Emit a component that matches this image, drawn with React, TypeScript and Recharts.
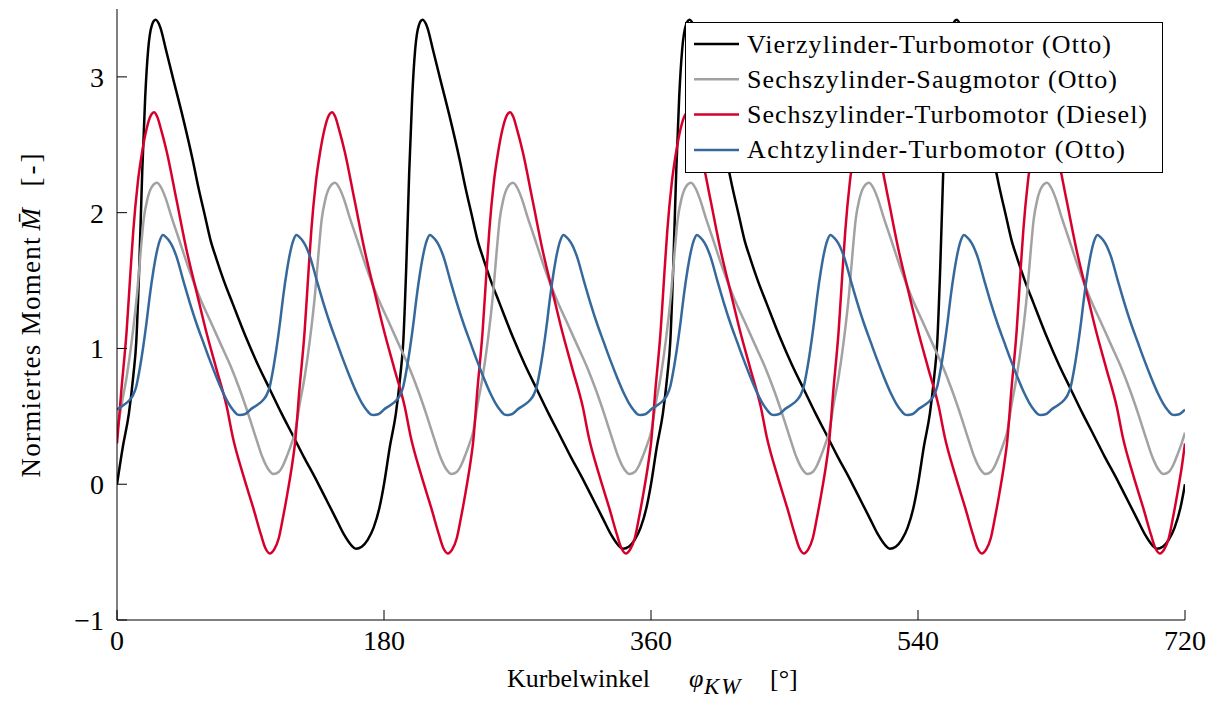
import React from 'react';
import { LineChart, Line, XAxis, YAxis, Legend, Label } from 'recharts';

const FONT = "'Liberation Serif', 'Times New Roman', serif";

const xTicks = [0, 180, 360, 540, 720];
const yTicks = [-1, 0, 1, 2, 3];

const seriesNames = [
  'Vierzylinder-Turbomotor (Otto)',
  'Sechszylinder-Saugmotor (Otto)',
  'Sechszylinder-Turbomotor (Diesel)',
  'Achtzylinder-Turbomotor (Otto)',
];
const seriesColors = ['#000000', '#a2a2a2', '#d7002d', '#35699c'];

// Vierzylinder-Turbomotor (Otto)
const vierWinkel = [
  0, 4, 8, 11, 13, 15, 17, 19, 21, 23.5, 26, 29, 33, 38, 44, 51, 55, 59, 63, 67, 72, 78, 87, 95, 103, 111, 119, 126, 133, 140, 147, 153, 158, 161, 165, 169, 173, 177,
  180, 184, 188, 191, 193, 195, 197, 199, 201, 203.5, 206, 209, 213, 218, 224, 231, 235, 239, 243, 247, 252, 258, 267, 275, 283, 291, 299, 306, 313, 320, 327, 333, 338, 341, 345, 349, 353, 357,
  360, 364, 368, 371, 373, 375, 377, 379, 381, 383.5, 386, 389, 393, 398, 404, 411, 415, 419, 423, 427, 432, 438, 447, 455, 463, 471, 479, 486, 493, 500, 507, 513, 518, 521, 525, 529, 533, 537,
  540, 544, 548, 551, 553, 555, 557, 559, 561, 563.5, 566, 569, 573, 578, 584, 591, 595, 599, 603, 607, 612, 618, 627, 635, 643, 651, 659, 666, 673, 680, 687, 693, 698, 701, 705, 709, 713, 717,
  720,
];
const vierMoment = [
  0, 0.28, 0.52, 0.8, 1.05, 1.6, 2.3, 2.85, 3.2, 3.38, 3.42, 3.37, 3.2, 2.98, 2.72, 2.39, 2.18, 1.99, 1.8, 1.66, 1.5, 1.33, 1.08, 0.88, 0.7, 0.52, 0.35, 0.2, 0.06, -0.09, -0.24, -0.37, -0.45, -0.475, -0.46, -0.41, -0.32, -0.17,
  0, 0.28, 0.52, 0.8, 1.05, 1.6, 2.3, 2.85, 3.2, 3.38, 3.42, 3.37, 3.2, 2.98, 2.72, 2.39, 2.18, 1.99, 1.8, 1.66, 1.5, 1.33, 1.08, 0.88, 0.7, 0.52, 0.35, 0.2, 0.06, -0.09, -0.24, -0.37, -0.45, -0.475, -0.46, -0.41, -0.32, -0.17,
  0, 0.28, 0.52, 0.8, 1.05, 1.6, 2.3, 2.85, 3.2, 3.38, 3.42, 3.37, 3.2, 2.98, 2.72, 2.39, 2.18, 1.99, 1.8, 1.66, 1.5, 1.33, 1.08, 0.88, 0.7, 0.52, 0.35, 0.2, 0.06, -0.09, -0.24, -0.37, -0.45, -0.475, -0.46, -0.41, -0.32, -0.17,
  0, 0.28, 0.52, 0.8, 1.05, 1.6, 2.3, 2.85, 3.2, 3.38, 3.42, 3.37, 3.2, 2.98, 2.72, 2.39, 2.18, 1.99, 1.8, 1.66, 1.5, 1.33, 1.08, 0.88, 0.7, 0.52, 0.35, 0.2, 0.06, -0.09, -0.24, -0.37, -0.45, -0.475, -0.46, -0.41, -0.32, -0.17,
  0,
];

// Sechszylinder-Saugmotor (Otto)
const saugWinkel = [
  0, 3, 6.5, 10, 13.5, 16, 18, 20.5, 23.5, 27, 30, 33, 37, 41, 48, 56, 63, 70, 77, 83, 89, 94, 98, 102, 105.5, 109, 112, 115, 118,
  120, 123, 126.5, 130, 133.5, 136, 138, 140.5, 143.5, 147, 150, 153, 157, 161, 168, 176, 183, 190, 197, 203, 209, 214, 218, 222, 225.5, 229, 232, 235, 238,
  240, 243, 246.5, 250, 253.5, 256, 258, 260.5, 263.5, 267, 270, 273, 277, 281, 288, 296, 303, 310, 317, 323, 329, 334, 338, 342, 345.5, 349, 352, 355, 358,
  360, 363, 366.5, 370, 373.5, 376, 378, 380.5, 383.5, 387, 390, 393, 397, 401, 408, 416, 423, 430, 437, 443, 449, 454, 458, 462, 465.5, 469, 472, 475, 478,
  480, 483, 486.5, 490, 493.5, 496, 498, 500.5, 503.5, 507, 510, 513, 517, 521, 528, 536, 543, 550, 557, 563, 569, 574, 578, 582, 585.5, 589, 592, 595, 598,
  600, 603, 606.5, 610, 613.5, 616, 618, 620.5, 623.5, 627, 630, 633, 637, 641, 648, 656, 663, 670, 677, 683, 689, 694, 698, 702, 705.5, 709, 712, 715, 718,
  720,
];
const saugMoment = [
  0.38, 0.58, 0.79, 1.06, 1.4, 1.72, 1.95, 2.1, 2.19, 2.22, 2.18, 2.1, 1.96, 1.83, 1.6, 1.37, 1.2, 1.03, 0.86, 0.69, 0.5, 0.33, 0.2, 0.11, 0.075, 0.09, 0.14, 0.22, 0.31,
  0.38, 0.58, 0.79, 1.06, 1.4, 1.72, 1.95, 2.1, 2.19, 2.22, 2.18, 2.1, 1.96, 1.83, 1.6, 1.37, 1.2, 1.03, 0.86, 0.69, 0.5, 0.33, 0.2, 0.11, 0.075, 0.09, 0.14, 0.22, 0.31,
  0.38, 0.58, 0.79, 1.06, 1.4, 1.72, 1.95, 2.1, 2.19, 2.22, 2.18, 2.1, 1.96, 1.83, 1.6, 1.37, 1.2, 1.03, 0.86, 0.69, 0.5, 0.33, 0.2, 0.11, 0.075, 0.09, 0.14, 0.22, 0.31,
  0.38, 0.58, 0.79, 1.06, 1.4, 1.72, 1.95, 2.1, 2.19, 2.22, 2.18, 2.1, 1.96, 1.83, 1.6, 1.37, 1.2, 1.03, 0.86, 0.69, 0.5, 0.33, 0.2, 0.11, 0.075, 0.09, 0.14, 0.22, 0.31,
  0.38, 0.58, 0.79, 1.06, 1.4, 1.72, 1.95, 2.1, 2.19, 2.22, 2.18, 2.1, 1.96, 1.83, 1.6, 1.37, 1.2, 1.03, 0.86, 0.69, 0.5, 0.33, 0.2, 0.11, 0.075, 0.09, 0.14, 0.22, 0.31,
  0.38, 0.58, 0.79, 1.06, 1.4, 1.72, 1.95, 2.1, 2.19, 2.22, 2.18, 2.1, 1.96, 1.83, 1.6, 1.37, 1.2, 1.03, 0.86, 0.69, 0.5, 0.33, 0.2, 0.11, 0.075, 0.09, 0.14, 0.22, 0.31,
  0.38,
];

// Sechszylinder-Turbomotor (Diesel)
const dieselWinkel = [
  0, 3, 6.5, 9, 11, 14, 17, 20, 23, 25, 27, 30, 33.5, 40, 47, 54, 60, 67, 74, 78, 85, 92, 97, 100, 103, 106, 109, 112, 115, 118,
  120, 123, 126.5, 129, 131, 134, 137, 140, 143, 145, 147, 150, 153.5, 160, 167, 174, 180, 187, 194, 198, 205, 212, 217, 220, 223, 226, 229, 232, 235, 238,
  240, 243, 246.5, 249, 251, 254, 257, 260, 263, 265, 267, 270, 273.5, 280, 287, 294, 300, 307, 314, 318, 325, 332, 337, 340, 343, 346, 349, 352, 355, 358,
  360, 363, 366.5, 369, 371, 374, 377, 380, 383, 385, 387, 390, 393.5, 400, 407, 414, 420, 427, 434, 438, 445, 452, 457, 460, 463, 466, 469, 472, 475, 478,
  480, 483, 486.5, 489, 491, 494, 497, 500, 503, 505, 507, 510, 513.5, 520, 527, 534, 540, 547, 554, 558, 565, 572, 577, 580, 583, 586, 589, 592, 595, 598,
  600, 603, 606.5, 609, 611, 614, 617, 620, 623, 625, 627, 630, 633.5, 640, 647, 654, 660, 667, 674, 678, 685, 692, 697, 700, 703, 706, 709, 712, 715, 718,
  720,
];
const dieselMoment = [
  0.3, 0.7, 1.13, 1.55, 1.87, 2.22, 2.45, 2.62, 2.72, 2.74, 2.71, 2.6, 2.45, 2.1, 1.72, 1.4, 1.13, 0.85, 0.57, 0.35, 0.07, -0.18, -0.37, -0.47, -0.51, -0.48, -0.4, -0.24, -0.06, 0.14,
  0.3, 0.7, 1.13, 1.55, 1.87, 2.22, 2.45, 2.62, 2.72, 2.74, 2.71, 2.6, 2.45, 2.1, 1.72, 1.4, 1.13, 0.85, 0.57, 0.35, 0.07, -0.18, -0.37, -0.47, -0.51, -0.48, -0.4, -0.24, -0.06, 0.14,
  0.3, 0.7, 1.13, 1.55, 1.87, 2.22, 2.45, 2.62, 2.72, 2.74, 2.71, 2.6, 2.45, 2.1, 1.72, 1.4, 1.13, 0.85, 0.57, 0.35, 0.07, -0.18, -0.37, -0.47, -0.51, -0.48, -0.4, -0.24, -0.06, 0.14,
  0.3, 0.7, 1.13, 1.55, 1.87, 2.22, 2.45, 2.62, 2.72, 2.74, 2.71, 2.6, 2.45, 2.1, 1.72, 1.4, 1.13, 0.85, 0.57, 0.35, 0.07, -0.18, -0.37, -0.47, -0.51, -0.48, -0.4, -0.24, -0.06, 0.14,
  0.3, 0.7, 1.13, 1.55, 1.87, 2.22, 2.45, 2.62, 2.72, 2.74, 2.71, 2.6, 2.45, 2.1, 1.72, 1.4, 1.13, 0.85, 0.57, 0.35, 0.07, -0.18, -0.37, -0.47, -0.51, -0.48, -0.4, -0.24, -0.06, 0.14,
  0.3, 0.7, 1.13, 1.55, 1.87, 2.22, 2.45, 2.62, 2.72, 2.74, 2.71, 2.6, 2.45, 2.1, 1.72, 1.4, 1.13, 0.85, 0.57, 0.35, 0.07, -0.18, -0.37, -0.47, -0.51, -0.48, -0.4, -0.24, -0.06, 0.14,
  0.3,
];

// Achtzylinder-Turbomotor (Otto)
const achtWinkel = [
  0, 4, 8.5, 11, 13, 15, 17.5, 20, 22, 24.5, 27, 29, 31, 33, 36, 40, 44.7, 49, 53.7, 58, 62.7, 67, 71.7, 75, 78.4, 81, 83, 86, 88,
  90, 94, 98.5, 101, 103, 105, 107.5, 110, 112, 114.5, 117, 119, 121, 123, 126, 130, 134.7, 139, 143.7, 148, 152.7, 157, 161.7, 165, 168.4, 171, 173, 176, 178,
  180, 184, 188.5, 191, 193, 195, 197.5, 200, 202, 204.5, 207, 209, 211, 213, 216, 220, 224.7, 229, 233.7, 238, 242.7, 247, 251.7, 255, 258.4, 261, 263, 266, 268,
  270, 274, 278.5, 281, 283, 285, 287.5, 290, 292, 294.5, 297, 299, 301, 303, 306, 310, 314.7, 319, 323.7, 328, 332.7, 337, 341.7, 345, 348.4, 351, 353, 356, 358,
  360, 364, 368.5, 371, 373, 375, 377.5, 380, 382, 384.5, 387, 389, 391, 393, 396, 400, 404.7, 409, 413.7, 418, 422.7, 427, 431.7, 435, 438.4, 441, 443, 446, 448,
  450, 454, 458.5, 461, 463, 465, 467.5, 470, 472, 474.5, 477, 479, 481, 483, 486, 490, 494.7, 499, 503.7, 508, 512.7, 517, 521.7, 525, 528.4, 531, 533, 536, 538,
  540, 544, 548.5, 551, 553, 555, 557.5, 560, 562, 564.5, 567, 569, 571, 573, 576, 580, 584.7, 589, 593.7, 598, 602.7, 607, 611.7, 615, 618.4, 621, 623, 626, 628,
  630, 634, 638.5, 641, 643, 645, 647.5, 650, 652, 654.5, 657, 659, 661, 663, 666, 670, 674.7, 679, 683.7, 688, 692.7, 697, 701.7, 705, 708.4, 711, 713, 716, 718,
  720,
];
const achtMoment = [
  0.55, 0.58, 0.62, 0.66, 0.72, 0.83, 1.0, 1.2, 1.38, 1.57, 1.72, 1.8, 1.835, 1.82, 1.78, 1.68, 1.5, 1.34, 1.18, 1.05, 0.91, 0.79, 0.67, 0.6, 0.545, 0.515, 0.51, 0.515, 0.53,
  0.55, 0.58, 0.62, 0.66, 0.72, 0.83, 1.0, 1.2, 1.38, 1.57, 1.72, 1.8, 1.835, 1.82, 1.78, 1.68, 1.5, 1.34, 1.18, 1.05, 0.91, 0.79, 0.67, 0.6, 0.545, 0.515, 0.51, 0.515, 0.53,
  0.55, 0.58, 0.62, 0.66, 0.72, 0.83, 1.0, 1.2, 1.38, 1.57, 1.72, 1.8, 1.835, 1.82, 1.78, 1.68, 1.5, 1.34, 1.18, 1.05, 0.91, 0.79, 0.67, 0.6, 0.545, 0.515, 0.51, 0.515, 0.53,
  0.55, 0.58, 0.62, 0.66, 0.72, 0.83, 1.0, 1.2, 1.38, 1.57, 1.72, 1.8, 1.835, 1.82, 1.78, 1.68, 1.5, 1.34, 1.18, 1.05, 0.91, 0.79, 0.67, 0.6, 0.545, 0.515, 0.51, 0.515, 0.53,
  0.55, 0.58, 0.62, 0.66, 0.72, 0.83, 1.0, 1.2, 1.38, 1.57, 1.72, 1.8, 1.835, 1.82, 1.78, 1.68, 1.5, 1.34, 1.18, 1.05, 0.91, 0.79, 0.67, 0.6, 0.545, 0.515, 0.51, 0.515, 0.53,
  0.55, 0.58, 0.62, 0.66, 0.72, 0.83, 1.0, 1.2, 1.38, 1.57, 1.72, 1.8, 1.835, 1.82, 1.78, 1.68, 1.5, 1.34, 1.18, 1.05, 0.91, 0.79, 0.67, 0.6, 0.545, 0.515, 0.51, 0.515, 0.53,
  0.55, 0.58, 0.62, 0.66, 0.72, 0.83, 1.0, 1.2, 1.38, 1.57, 1.72, 1.8, 1.835, 1.82, 1.78, 1.68, 1.5, 1.34, 1.18, 1.05, 0.91, 0.79, 0.67, 0.6, 0.545, 0.515, 0.51, 0.515, 0.53,
  0.55, 0.58, 0.62, 0.66, 0.72, 0.83, 1.0, 1.2, 1.38, 1.57, 1.72, 1.8, 1.835, 1.82, 1.78, 1.68, 1.5, 1.34, 1.18, 1.05, 0.91, 0.79, 0.67, 0.6, 0.545, 0.515, 0.51, 0.515, 0.53,
  0.55,
];

const toRows = (angles: number[], values: number[]) =>
  angles.map((a, i) => ({ a, v: values[i] }));

const seriesData = [
  toRows(vierWinkel, vierMoment),
  toRows(saugWinkel, saugMoment),
  toRows(dieselWinkel, dieselMoment),
  toRows(achtWinkel, achtMoment),
];

const fmtY = (v: number) => (v < 0 ? '\u2212' + Math.abs(v) : String(v));

const tickStyle = { fontSize: 28, fill: '#000', fontFamily: FONT };

const LegendBox = () => {
  const textWidths = [364, 370, 400, 378];
  return (
    <svg width={478} height={151} style={{ display: 'block' }}>
      <rect x={0.5} y={0.5} width={477} height={150} fill="#fff" stroke="#000" strokeWidth={1} />
      {seriesNames.map((name, i) => {
        const cy = 22 + i * 35.3;
        return (
          <g key={name}>
            <line x1={9} x2={54} y1={cy} y2={cy} stroke={seriesColors[i]} strokeWidth={2.5} />
            <text
              x={62}
              y={cy + 8.5}
              fontSize={26}
              fontFamily={FONT}
              textLength={textWidths[i]}
              lengthAdjust="spacing"
              fill="#000"
            >
              {name}
            </text>
          </g>
        );
      })}
    </svg>
  );
};

const YLabel = (props: any) => {
  const vb = props.viewBox || {};
  const mid = vb.y + vb.height / 2;
  const bx = 40;
  return (
    <g transform="rotate(-90)" fontFamily={FONT} fill="#000">
      <text x={-(mid + 163)} y={bx} fontSize={27} textLength={240} lengthAdjust="spacing">
        Normiertes Moment
      </text>
      <text x={-(mid - 84)} y={bx} fontSize={27} fontStyle="italic">
        {'M\u0304'}
      </text>
      <text x={-(mid - 128)} y={bx} fontSize={27} letterSpacing={3}>
        [-]
      </text>
    </g>
  );
};

const XLabel = (props: any) => {
  const vb = props.viewBox || {};
  const x0 = vb.x + vb.width / 2 - 144;
  const by = 687;
  return (
    <g fontFamily={FONT} fill="#000">
      <text x={x0} y={by} fontSize={26}>
        Kurbelwinkel
      </text>
      <text x={x0 + 182} y={by} fontSize={26} fontStyle="italic">
        {'\u03c6'}
      </text>
      <text x={x0 + 197} y={by + 7} fontSize={23} fontStyle="italic" letterSpacing={2}>
        KW
      </text>
      <text x={x0 + 263} y={by} fontSize={26}>
        {'[\u00b0]'}
      </text>
    </g>
  );
};

export default function App() {
  return (
    <div style={{ position: 'absolute', left: 0, top: 0, width: 1219, height: 706, background: '#fff' }}>
      <LineChart width={1219} height={706} margin={{ top: 9, right: 34, bottom: 0, left: 0 }}>
        <XAxis
          xAxisId="bottom"
          type="number"
          dataKey="a"
          domain={[0, 720]}
          ticks={xTicks}
          allowDataOverflow
          height={86}
          stroke="#000"
          tickSize={-10}
          tickMargin={20}
          tick={tickStyle}
          interval={0}
        >
          <Label content={<XLabel />} />
        </XAxis>
        <XAxis
          xAxisId="top"
          orientation="top"
          type="number"
          dataKey="a"
          domain={[0, 720]}
          ticks={xTicks}
          allowDataOverflow
          height={0}
          stroke="#000"
          tickSize={-10}
          tickFormatter={() => ''}
          interval={0}
        />
        <YAxis
          yAxisId="left"
          type="number"
          domain={[-1, 3.5]}
          ticks={yTicks}
          allowDataOverflow
          width={117}
          stroke="#000"
          tickSize={-10}
          tickMargin={23}
          tick={tickStyle}
          tickFormatter={fmtY}
          interval={0}
        >
          <Label content={<YLabel />} />
        </YAxis>
        <YAxis
          yAxisId="right"
          orientation="right"
          type="number"
          domain={[-1, 3.5]}
          ticks={yTicks}
          allowDataOverflow
          width={0}
          stroke="#000"
          tickSize={-10}
          tickFormatter={() => ''}
          interval={0}
        />
        {seriesData.map((d, i) => (
          <Line
            key={seriesNames[i]}
            data={d}
            dataKey="v"
            name={seriesNames[i]}
            xAxisId="bottom"
            yAxisId="left"
            type="monotone"
            dot={false}
            activeDot={false}
            stroke={seriesColors[i]}
            strokeWidth={2.5}
            isAnimationActive={false}
          />
        ))}
        <Legend
          layout="horizontal"
          verticalAlign="middle"
          align="center"
          content={<LegendBox />}
          wrapperStyle={{ left: 685, top: 22, width: 478, height: 151 }}
        />
      </LineChart>
    </div>
  );
}
